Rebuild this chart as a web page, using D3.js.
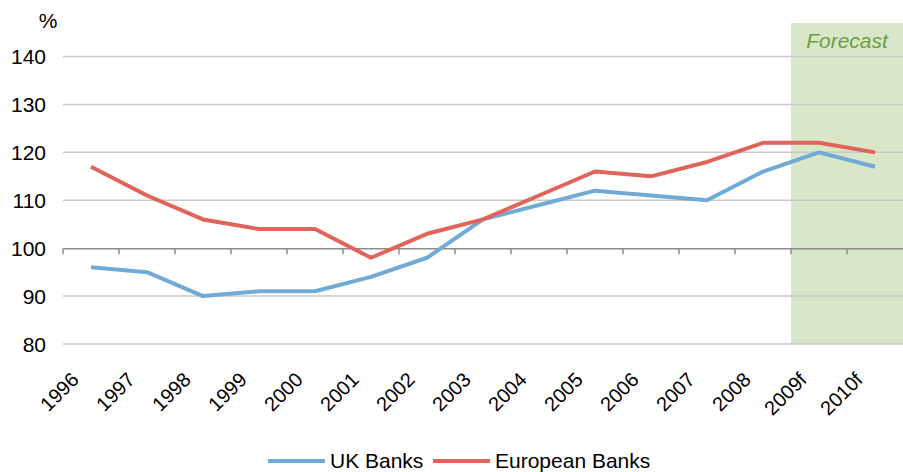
<!DOCTYPE html>
<html><head><meta charset="utf-8">
<script src="https://cdn.jsdelivr.net/npm/d3@7"></script>
<style>body{margin:0;background:#fff}svg{display:block;font-family:"Liberation Sans",Arial,sans-serif}</style>
</head><body><svg id="c" width="903" height="472"></svg>
<script>
const categories = ["1996","1997","1998","1999","2000","2001","2002","2003","2004","2005","2006","2007","2008","2009f","2010f"];
const ukBanks = [96,95,90,91,91,94,98,106,109,112,111,110,116,120,117];
const europeanBanks = [117,111,106,104,104,98,103,106,111,116,115,118,122,122,120];
const yTicks = [80,90,100,110,120,130,140];
const forecastCats = ["2009f","2010f"];

const svg = d3.select("#c");
const x = d3.scaleBand().domain(categories).range([63, 903]).padding(0);
const y = d3.scaleLinear().domain([80, 147]).range([344, 23]);
const cx = c => x(c) + x.bandwidth()/2;

// forecast shading
svg.append("rect")
  .attr("x", x(forecastCats[0]))
  .attr("y", y(147))
  .attr("width", x.bandwidth()*forecastCats.length)
  .attr("height", y(80)-y(147))
  .attr("fill", "#d9e7c9");
svg.append("text")
  .attr("x", x(forecastCats[0]) + x.bandwidth()*forecastCats.length/2)
  .attr("y", 48)
  .attr("text-anchor","middle")
  .attr("font-size", 21).attr("font-style","italic")
  .attr("fill", "#6b9f45")
  .text("Forecast");

// gridlines
svg.append("g").selectAll("line").data(yTicks.filter(t=>t!==100)).join("line")
  .attr("x1", 63).attr("x2", 903)
  .attr("y1", d=>y(d)).attr("y2", d=>y(d))
  .attr("stroke", "#c9c9c9").attr("stroke-width", 1.5);

// y labels
svg.append("g").selectAll("text").data(yTicks).join("text")
  .attr("x", 46).attr("y", d=>y(d)+7.5)
  .attr("text-anchor","end").attr("font-size", 21).attr("fill","#000")
  .text(d=>d);
svg.append("text").attr("x", 48).attr("y", 28).attr("text-anchor","middle")
  .attr("font-size", 21).text("%");

// category axis at 100
const axis = d3.axisBottom(x).tickSize(0).tickFormat("");
const ag = svg.append("g").attr("transform", `translate(0,${y(100)})`).call(axis);
ag.select(".domain").attr("stroke","#8c8c8c").attr("stroke-width",1.5);
ag.selectAll(".bt").data(categories).join("line").attr("class","bt")
  .attr("x1", d=>x(d)).attr("x2", d=>x(d)).attr("y1",0).attr("y2",6)
  .attr("stroke","#8c8c8c").attr("stroke-width",1.5);

// x labels
svg.append("g").selectAll("text").data(categories).join("text")
  .attr("transform", d=>`translate(${cx(d)-11},${y(80)+37}) rotate(-45)`)
  .attr("text-anchor","end").attr("font-size", 20).attr("fill","#000")
  .text(d=>d);

// lines
const line = d3.line().x((d,i)=>cx(categories[i])).y(d=>y(d));
svg.append("path").datum(ukBanks).attr("d", line)
  .attr("fill","none").attr("stroke","#72aad6").attr("stroke-width",4).attr("stroke-linejoin","round");
svg.append("path").datum(europeanBanks).attr("d", line)
  .attr("fill","none").attr("stroke","#e0645a").attr("stroke-width",4).attr("stroke-linejoin","round");

// legend
const legend = [{name:"UK Banks", color:"#72aad6", x:268},{name:"European Banks", color:"#e0645a", x:433}];
const lg = svg.append("g").selectAll("g").data(legend).join("g");
lg.append("line").attr("x1", d=>d.x).attr("x2", d=>d.x+57).attr("y1",461).attr("y2",461)
  .attr("stroke", d=>d.color).attr("stroke-width",4);
lg.append("text").attr("x", d=>d.x+62).attr("y", 468).attr("font-size",21).text(d=>d.name);
</script></body></html>
